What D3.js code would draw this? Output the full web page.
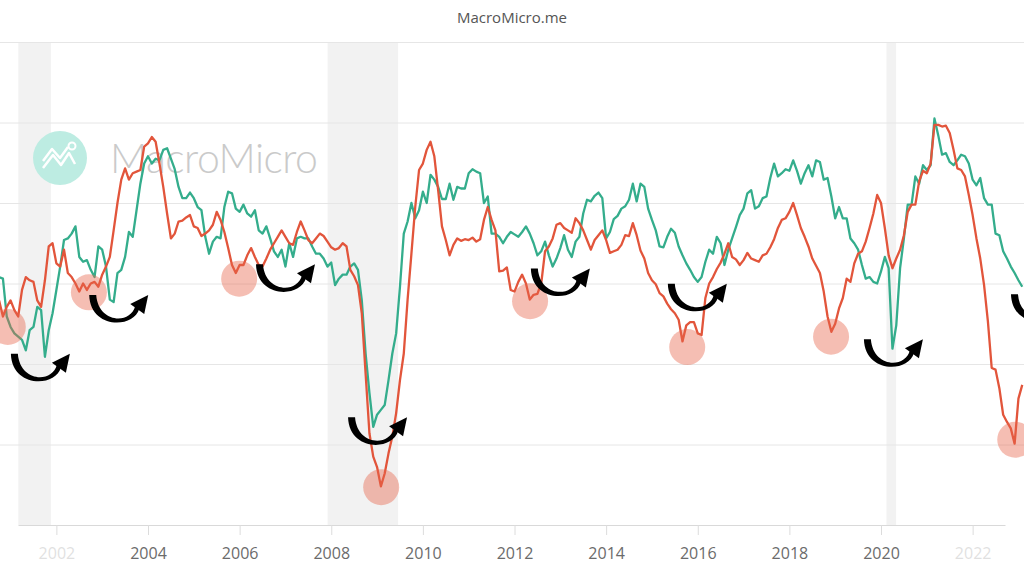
<!DOCTYPE html>
<html>
<head>
<meta charset="utf-8">
<script src="https://cdn.jsdelivr.net/npm/d3@7"></script>
<style>
  html, body { margin: 0; padding: 0; background: #fff; }
  svg { display: block; font-family: "Open Sans", "Noto Sans", sans-serif; }
</style>
</head>
<body>
<svg id="chart" width="1024" height="576"></svg>
<script>
// monthly readings, first point is Oct 2000
const startYear = 2000.75;

const greenValues = [
  50.8, 50.6, 45.9, 44.6, 43.8, 43.4, 43.0, 41.7, 44.2, 44.6, 47.1, 46.7,
  40.9, 44.2, 46.3, 49.2, 52.1, 55.4, 55.6, 56.2, 57.1, 53.3, 52.7, 52.9,
  51.7, 50.8, 54.6, 54.2, 52.1, 48.0, 47.7, 51.3, 51.7, 53.3, 56.4, 55.8,
  59.1, 62.4, 64.9, 65.8, 64.9, 65.5, 65.3, 66.6, 66.8, 65.5, 64.2, 62.0,
  60.6, 60.6, 61.3, 60.6, 59.5, 59.1, 55.8, 53.7, 55.2, 55.8, 55.6, 59.5,
  61.4, 61.2, 59.3, 58.9, 59.8, 58.7, 58.3, 59.1, 56.6, 56.2, 57.1, 55.6,
  54.0, 53.3, 54.2, 52.1, 55.0, 53.3, 55.6, 55.8, 55.6, 55.6, 54.6, 53.7,
  53.7, 53.1, 52.1, 52.6, 49.8, 50.6, 51.1, 51.1, 52.1, 52.5, 51.7, 47.9,
  41.3, 36.4, 32.2, 33.7, 34.3, 34.9, 38.0, 41.3, 43.8, 49.6, 56.2, 57.7,
  60.0, 58.1, 59.1, 61.4, 60.0, 63.5, 62.9, 62.0, 60.5, 60.5, 62.4, 60.4,
  62.0, 61.8, 61.8, 63.7, 64.2, 63.9, 63.7, 60.0, 60.8, 56.2, 56.2, 55.8,
  55.0, 55.8, 56.4, 56.1, 55.8, 56.4, 57.1, 56.2, 55.0, 53.5, 54.0, 55.2,
  53.5, 52.1, 53.1, 54.4, 56.0, 54.2, 53.3, 55.2, 55.8, 58.7, 60.4, 60.2,
  60.9, 61.3, 60.6, 55.6, 56.4, 58.0, 58.4, 59.3, 59.6, 60.4, 62.4, 60.2,
  62.4, 62.0, 59.3, 57.9, 56.6, 54.6, 54.5, 55.8, 56.8, 56.3, 54.6, 53.5,
  52.5, 51.7, 50.8, 50.2, 50.8, 52.7, 54.2, 53.7, 55.8, 55.0, 52.3, 54.2,
  55.6, 57.0, 58.5, 59.3, 61.2, 61.6, 59.3, 59.6, 60.6, 60.8, 63.1, 64.9,
  63.3, 63.7, 64.2, 64.0, 65.3, 64.0, 62.4, 63.7, 64.7, 63.3, 65.3, 65.1,
  62.9, 63.1, 60.8, 58.1, 59.5, 58.1, 58.1, 55.6, 55.0, 54.2, 52.3, 50.6,
  50.8, 50.2, 50.0, 51.5, 53.3, 51.9, 41.9, 44.8, 51.9, 55.6, 59.8, 59.8,
  63.3, 62.4, 64.7, 64.1, 64.7, 70.5, 68.4, 66.0, 66.2, 65.1, 64.7, 65.3,
  66.0, 65.8, 64.9, 62.9, 62.2, 63.1, 60.6, 59.8, 59.8, 56.2, 56.0, 54.0,
  53.1, 52.1, 51.3, 50.4, 49.6
];

const redValues = [
  47.9, 45.9, 47.1, 47.9, 46.7, 45.9, 49.2, 50.8, 50.4, 50.2, 47.9, 47.1,
  50.4, 54.6, 55.0, 52.5, 52.1, 54.2, 51.3, 50.8, 50.0, 49.0, 50.0, 49.2,
  50.0, 50.2, 49.6, 51.1, 52.1, 53.3, 56.6, 60.0, 62.9, 64.3, 62.9, 63.7,
  63.9, 64.1, 67.0, 67.4, 68.2, 67.6, 64.9, 62.0, 58.7, 55.6, 56.2, 57.7,
  57.8, 58.2, 58.5, 57.1, 56.9, 55.9, 56.2, 56.6, 57.3, 58.9, 57.9, 56.4,
  54.4, 52.3, 51.3, 52.3, 52.3, 53.5, 54.4, 53.3, 52.3, 52.1, 53.1, 54.2,
  55.0, 55.8, 56.6, 55.8, 55.0, 54.8, 56.4, 57.7, 56.6, 55.4, 55.0, 55.6,
  56.2, 55.9, 55.2, 54.5, 54.2, 54.4, 55.0, 54.6, 51.7, 50.9, 49.8, 46.3,
  38.8, 31.4, 28.5, 27.2, 24.8, 26.4, 28.9, 31.0, 33.9, 38.0, 41.3, 48.0,
  53.7, 59.5, 64.1, 64.9, 66.6, 67.6, 65.8, 61.6, 57.1, 55.4, 53.5, 54.8,
  55.6, 55.3, 55.5, 55.4, 55.7, 55.2, 55.5, 57.9, 59.5, 57.9, 56.6, 51.5,
  51.6, 52.0, 49.2, 49.0, 50.2, 51.1, 50.0, 48.0, 48.6, 48.7, 50.0, 54.0,
  54.6, 55.6, 57.3, 57.5, 56.9, 56.6, 56.3, 58.1, 57.5, 56.6, 55.4, 54.2,
  55.4, 56.0, 56.6, 55.4, 53.8, 54.0, 54.2, 54.8, 56.0, 55.9, 57.5, 56.0,
  54.1, 53.1, 51.3, 50.4, 49.9, 48.8, 48.4, 47.5, 46.8, 46.3, 45.5, 42.8,
  44.8, 45.2, 45.2, 43.8, 43.6, 48.2, 50.0, 50.8, 51.8, 52.6, 53.7, 55.0,
  53.3, 53.0, 52.3, 52.9, 53.8, 53.1, 52.9, 52.7, 53.5, 53.7, 54.5, 55.5,
  56.9, 57.9, 58.1, 58.9, 60.0, 58.5, 56.9, 55.8, 54.6, 53.1, 52.2, 51.3,
  49.0, 45.9, 44.0, 45.0, 46.9, 48.2, 50.6, 50.2, 52.5, 53.7, 54.0, 55.2,
  56.9, 58.7, 61.0, 60.0, 56.9, 53.5, 51.9, 53.1, 54.2, 56.0, 58.9, 59.8,
  59.8, 62.7, 64.0, 63.7, 64.9, 69.7, 69.7, 69.5, 69.6, 68.7, 66.6, 64.3,
  64.1, 63.3, 61.0, 58.5, 55.6, 53.1, 49.8, 45.3, 39.5, 39.3, 37.0, 33.7,
  32.8, 32.0, 30.1, 35.7, 37.4
];

const yearTicks = [2002, 2004, 2006, 2008, 2010, 2012, 2014, 2016, 2018, 2020, 2022];
const gridValues = [30, 40, 50, 60, 70, 80];

const recessionStarts = [2001.17, 2007.92, 2020.12];
const recessionEnds = [2001.88, 2009.46, 2020.33];

// pink dots on the red troughs
const troughYears = [2000.94, 2002.71, 2005.99, 2009.09, 2012.34, 2015.77, 2018.91, 2022.93];
const troughValues = [44.6, 48.9, 50.6, 24.7, 47.8, 42.1, 43.4, 30.6];

// black turn-around arrows (bottom of the U)
const turnYears = [2001.64, 2003.35, 2006.99, 2009.0, 2012.99, 2015.98, 2020.26, 2023.47];
const turnValues = [37.8, 45.1, 48.9, 29.9, 48.4, 46.5, 39.6, 45.2];

const svg = d3.select("#chart");
const width = +svg.attr("width");
const height = +svg.attr("height");

const x = d3.scaleLinear().domain([2004, 2020]).range([148, 881]);
const y = d3.scaleLinear().domain([20, 80]).range([525, 42]);

svg.append("rect").attr("width", width).attr("height", height).attr("fill", "#fff");

// title
svg.append("text")
    .attr("x", width / 2)
    .attr("y", 23)
    .attr("text-anchor", "middle")
    .attr("font-size", "15px")
    .attr("fill", "#555")
    .text("MacroMicro.me");

// recession bands
svg.selectAll(".band")
    .data(recessionStarts)
    .enter().append("rect")
    .attr("class", "band")
    .attr("x", d => x(d))
    .attr("width", (d, i) => x(recessionEnds[i]) - x(d))
    .attr("y", y(80))
    .attr("height", y(20) - y(80))
    .attr("fill", "#f2f2f2");

// horizontal grid
const grid = svg.append("g")
    .call(d3.axisRight(y).tickValues(gridValues).tickSize(width).tickFormat(""));
grid.select(".domain").remove();
grid.selectAll("line").attr("stroke", "#e6e6e6");

// watermark
const logo = svg.append("g").attr("transform", "translate(60,158)");
logo.append("circle").attr("r", 27).attr("fill", "#bdece2");
logo.append("path")
    .attr("d", "M-17,10 L-7,-3 L1,7 L9,-5 L15,6")
    .attr("fill", "none").attr("stroke", "#fff").attr("stroke-width", 2.5)
    .attr("stroke-linejoin", "round");
logo.append("path")
    .attr("d", "M-17,3 L-8,-9 L0,0 L8,-11")
    .attr("fill", "none").attr("stroke", "#fff").attr("stroke-width", 2.5)
    .attr("stroke-linejoin", "round");
logo.append("circle").attr("cx", 12).attr("cy", -12).attr("r", 3.5)
    .attr("fill", "none").attr("stroke", "#fff").attr("stroke-width", 2);
svg.append("text")
    .attr("x", 110)
    .attr("y", 173)
    .attr("font-size", "41px")
    .attr("font-family", "Lato, 'Open Sans', sans-serif")
    .attr("font-weight", 300)
    .attr("textLength", 208)
    .attr("fill", "#cacaca")
    .text("MacroMicro");

// x axis
const xAxis = x.copy().domain([x.invert(18), x.invert(1005)]).range([18, 1005]);
const ax = svg.append("g")
    .attr("transform", "translate(0," + y(20) + ")")
    .call(d3.axisBottom(xAxis).tickValues(yearTicks).tickFormat(d3.format("d"))
        .tickSize(10).tickSizeOuter(0).tickPadding(13));
ax.select(".domain").attr("stroke", "#d9d9d9");
ax.selectAll(".tick line").attr("stroke", "#dcdcdc");
ax.selectAll(".tick text")
    .attr("font-size", "16px")
    .attr("font-family", "'Open Sans', sans-serif")
    .attr("fill", "#6b6b6b")
    .attr("opacity", d => (d === 2002 || d === 2022) ? 0.2 : 1);

// lines
const line = d3.line()
    .x((d, i) => x(startYear + i / 12))
    .y(d => y(d));

svg.append("path")
    .datum(greenValues)
    .attr("d", line)
    .attr("fill", "none")
    .attr("stroke", "#34ad8c")
    .attr("stroke-width", 2.3)
    .attr("stroke-linejoin", "round");

svg.append("path")
    .datum(redValues)
    .attr("d", line)
    .attr("fill", "none")
    .attr("stroke", "#e2553b")
    .attr("stroke-width", 2.3)
    .attr("stroke-linejoin", "round");

// trough dots
svg.selectAll(".dot")
    .data(troughYears)
    .enter().append("circle")
    .attr("class", "dot")
    .attr("cx", d => x(d))
    .attr("cy", (d, i) => y(troughValues[i]))
    .attr("r", 18)
    .attr("fill", "#e8634b")
    .attr("opacity", 0.42);

// turn arrows: crescent-shaped U with a head at the upper right
const arrows = svg.selectAll(".turn")
    .data(turnYears)
    .enter().append("g")
    .attr("class", "turn")
    .attr("transform", (d, i) => "translate(" + x(d) + "," + y(turnValues[i]) + ")");
arrows.append("path")
    .attr("d", "M-29,-28 L-22,-28 C-20,0 12,2 17,-17 L21,-14 C15,6 -28,6 -29,-28 Z")
    .attr("fill", "#000");
arrows.append("path")
    .attr("d", "M30,-28 L26,-9 L12,-19 Z")
    .attr("fill", "#000");
</script>
</body>
</html>
